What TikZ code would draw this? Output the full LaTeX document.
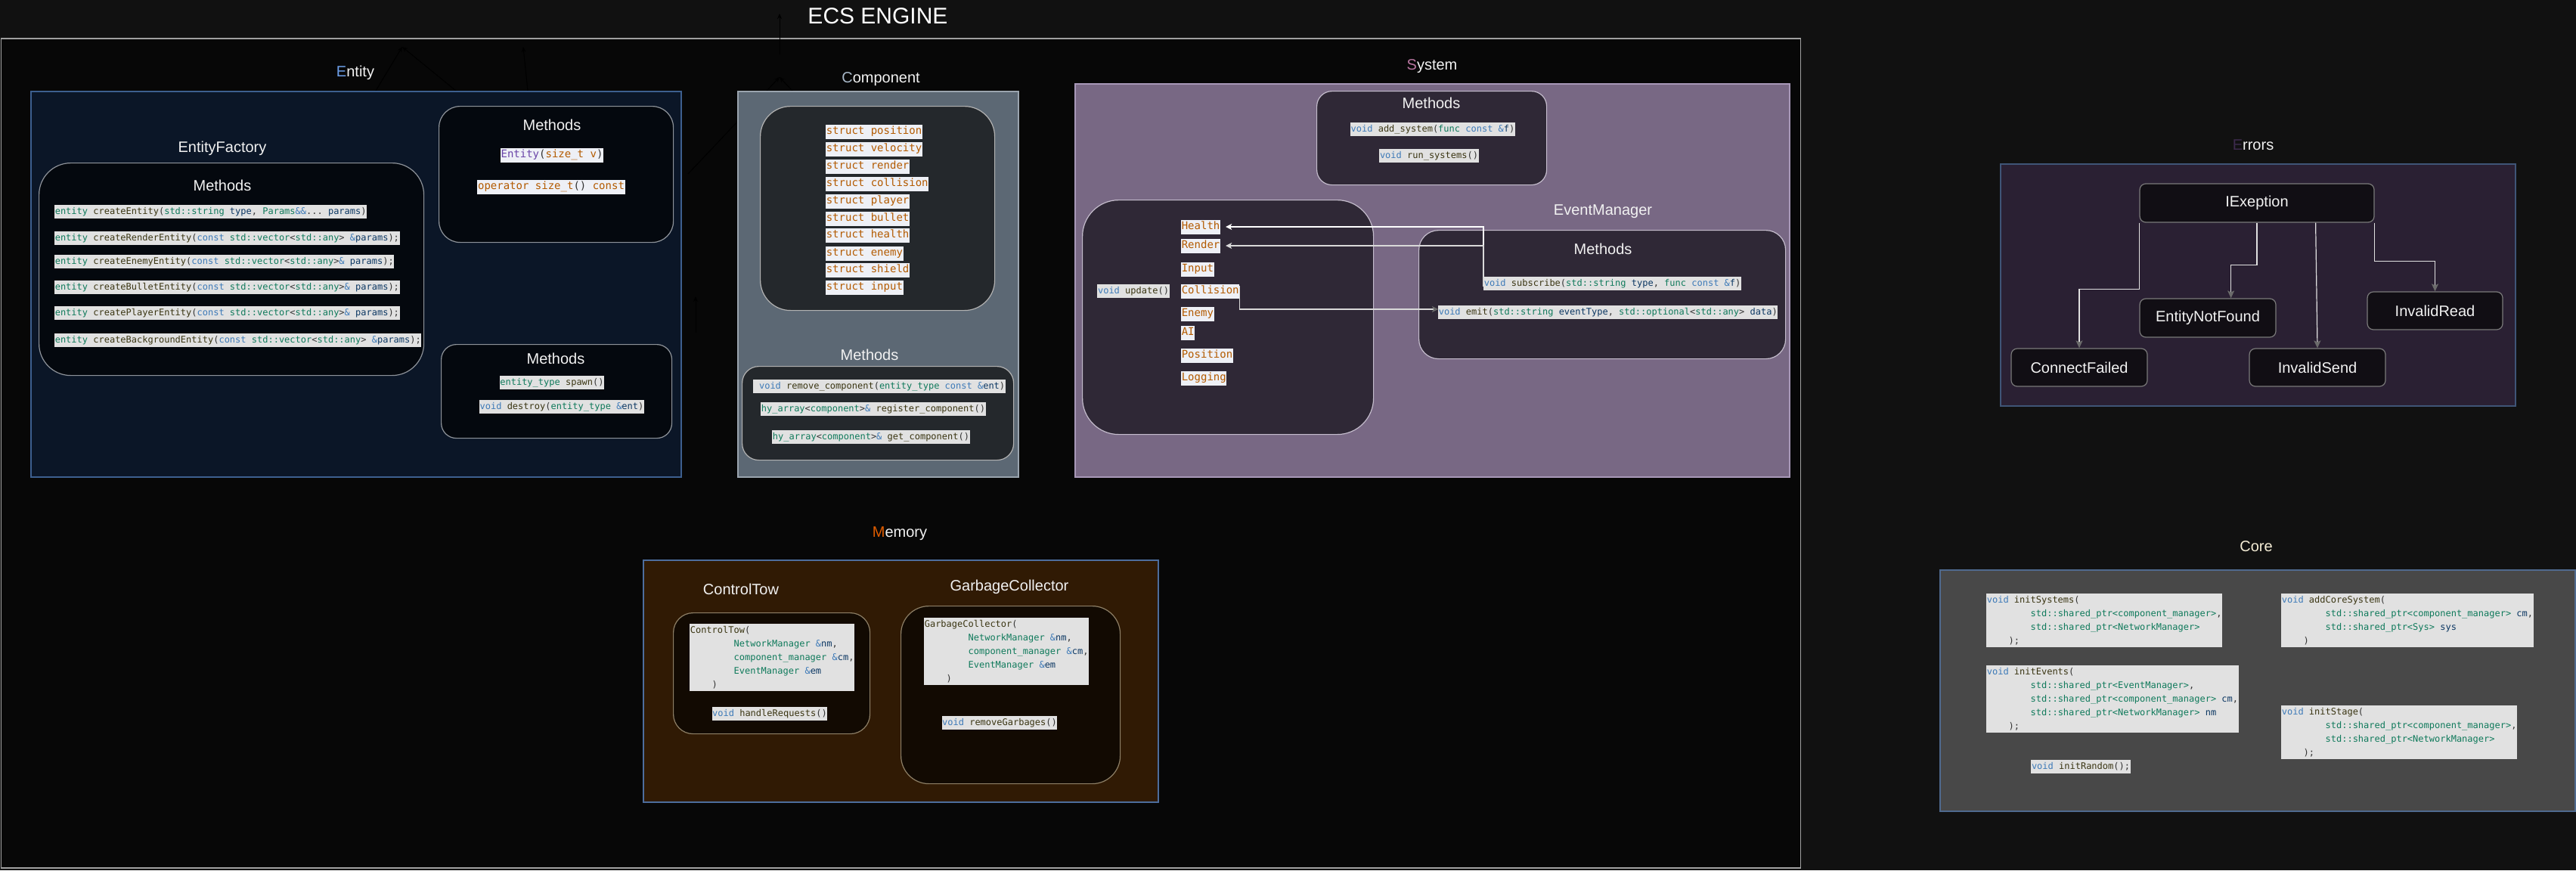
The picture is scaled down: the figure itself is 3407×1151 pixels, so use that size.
\documentclass[tikz,border=0pt]{standalone}
\usepackage{fontspec}
\setmainfont{Liberation Sans}
\setmonofont{DejaVu Sans Mono}
\usetikzlibrary{arrows.meta,calc}

% palette
\definecolor{pagebg}{HTML}{111111}
\definecolor{outerbg}{HTML}{070707}
\definecolor{outerln}{HTML}{A0A0A0}
\definecolor{labc}{HTML}{F2F2F2}
\definecolor{entbg}{HTML}{0B1627}
\definecolor{entln}{HTML}{3D5F8F}
\definecolor{entin}{HTML}{04080E}
\definecolor{inln}{HTML}{8E939A}
\definecolor{cmpbg}{HTML}{5C6874}
\definecolor{cmpln}{HTML}{9AA4AE}
\definecolor{cmpin}{HTML}{24282C}
\definecolor{sysbg}{HTML}{786884}
\definecolor{sysln}{HTML}{A898B8}
\definecolor{sysin}{HTML}{2F2836}
\definecolor{sysinln}{HTML}{C4BCCC}
\definecolor{errbg}{HTML}{2A2033}
\definecolor{errln}{HTML}{3F5577}
\definecolor{errnode}{HTML}{110E14}
\definecolor{errnodeln}{HTML}{7A7A7A}
\definecolor{arrgray}{HTML}{6B6B6B}
\definecolor{memln}{HTML}{4D6D9D}
\definecolor{membg}{HTML}{301A04}
\definecolor{memin}{HTML}{120A02}
\definecolor{meminln}{HTML}{8D7F66}
\definecolor{corebg}{HTML}{484848}
\definecolor{coreln}{HTML}{4F6A8F}
\definecolor{codebg}{HTML}{E1E1E1}
\definecolor{codebgb}{HTML}{EEF0F6}
% initial letters of the group titles
\definecolor{entc}{HTML}{6C9EE8}
\definecolor{cmpc}{HTML}{A8B8C8}
\definecolor{sysc}{HTML}{B5739D}
\definecolor{errc}{HTML}{3C2A4D}
\definecolor{memc}{HTML}{E05C00}
\definecolor{corec}{HTML}{F5EDD6}
% syntax colours
\definecolor{ckw}{HTML}{3D7AB8}
\definecolor{cty}{HTML}{0F7A5B}
\definecolor{cfn}{HTML}{3A3512}
\definecolor{cva}{HTML}{0C3763}
\definecolor{cst}{HTML}{B35A00}
\definecolor{cpu}{HTML}{333333}
\definecolor{cpr}{HTML}{6A45A8}

\newcommand\CKw[1]{\textcolor{ckw}{#1}}
\newcommand\CTy[1]{\textcolor{cty}{#1}}
\newcommand\CFn[1]{\textcolor{cfn}{#1}}
\newcommand\CVa[1]{\textcolor{cva}{#1}}
\newcommand\CSt[1]{\textcolor{cst}{#1}}
\newcommand\CPr[1]{\textcolor{cpr}{#1}}
\newcommand\ind{\phantom{00000000}}
\newcommand\indb{\phantom{0000}}
\newcommand\codefont{\ttfamily\fontsize{12}{18}\selectfont}
\newcommand\codefontL{\ttfamily\fontsize{14}{19}\selectfont}
\newcommand\labfont{\fontsize{20}{24}\selectfont}

\tikzset{
  lab/.style={text=labc, font=\labfont, inner sep=0pt},
  grp/.style={anchor=north west, inner sep=0pt, line width=1.5pt},
  rbox/.style={anchor=north west, inner sep=0pt, line width=1.2pt},
  code/.style={fill=codebg, text=cpu, font=\codefont, inner xsep=0.6pt,
    inner ysep=3pt, text height=9pt, text depth=3pt},
  codeL/.style={fill=codebgb, text=cpu, font=\codefontL, inner xsep=0.6pt,
    inner ysep=2.5pt, text height=10.5pt, text depth=3.5pt},
  block/.style={fill=codebg, text=cpu, font=\codefont, inner xsep=0.6pt,
    inner ysep=3pt, align=left, anchor=north west},
  errnd/.style={draw=errnodeln, fill=errnode, line width=1.2pt, rounded corners=8pt,
    text=labc, font=\labfont, inner sep=0pt},
  eline/.style={draw=white!88!black, line width=1.2pt,
    -{Stealth[length=10pt,width=9pt,inset=2pt,color=arrgray]}},
  wline/.style={draw=white, line width=1.3pt,
    -{Stealth[length=8pt,width=8pt,inset=2pt]}, shorten >=7pt},
  ghost/.style={draw=black, line width=1pt, -{Stealth[length=7pt,width=6pt]}},
}

\begin{document}
\begin{tikzpicture}[x=1pt,y=-1pt]
\useasboundingbox (0,0) rectangle (3407,1151);
\fill[pagebg] (0,0) rectangle (3407,1151);

% ---------- engine frame ----------
\node[grp, draw=outerln, fill=outerbg, minimum width=2380pt, minimum height=1097pt] (engine) at (0.8,50) {};
\node[text=white, font=\fontsize{30}{36}\selectfont, inner sep=0pt] (title) at (1161,21) {ECS ENGINE};

% loose connectors left in the frame
\coordinate (g1a) at (497,120); \coordinate (g1b) at (603,120); \coordinate (g1t) at (532,62);
\coordinate (g2a) at (698,120); \coordinate (g2t) at (692,62);
\coordinate (g3a) at (1031,72); \coordinate (g3t) at (1031,18);
\coordinate (g4a) at (910,230); \coordinate (g4b) at (1048,120); \coordinate (g4t) at (1031,102);
\coordinate (g5a) at (920,440); \coordinate (g5t) at (920,392);
\draw[ghost] (g1a) -- (g1t);
\draw[ghost] (g1b) -- (g1t);
\draw[ghost] (g2a) -- (g2t);
\draw[ghost] (g3a) -- (g3t);
\draw[ghost] (g4a) -- (g4t);
\draw[ghost] (g4b) -- (g4t);
\draw[ghost] (g5a) -- (g5t);

% ---------- Entity ----------
\node[lab] (entlab) at (470,96) {\textcolor{entc}{E}ntity};
\node[grp, draw=entln, fill=entbg, minimum width=860pt, minimum height=510pt] (ent) at (40,120) {};
\node[lab] (eflab) at (294,196) {EntityFactory};
\node[rbox, draw=inln, fill=entin, rounded corners=42pt, minimum width=509pt, minimum height=281pt] (efbox) at (51,215) {};
\node[lab] (efm) at (294,245) {Methods};
\node[code, anchor=west] (ef1) at (72,280) {\CTy{entity} \CFn{createEntity}(\CTy{std::string} \CVa{type}, \CTy{Params}\CKw{\&\&}... \CVa{params})};
\node[code, anchor=west] (ef2) at (72,315) {\CTy{entity} \CFn{createRenderEntity}(\CKw{const} \CTy{std::vector}<\CTy{std::any}> \CKw{\&}\CVa{params});};
\node[code, anchor=west] (ef3) at (72,346) {\CTy{entity} \CFn{createEnemyEntity}(\CKw{const} \CTy{std::vector}<\CTy{std::any}>\CKw{\&} \CVa{params});};
\node[code, anchor=west] (ef4) at (72,380) {\CTy{entity} \CFn{createBulletEntity}(\CKw{const} \CTy{std::vector}<\CTy{std::any}>\CKw{\&} \CVa{params});};
\node[code, anchor=west] (ef5) at (72,414) {\CTy{entity} \CFn{createPlayerEntity}(\CKw{const} \CTy{std::vector}<\CTy{std::any}>\CKw{\&} \CVa{params});};
\node[code, anchor=west] (ef6) at (72,450) {\CTy{entity} \CFn{createBackgroundEntity}(\CKw{const} \CTy{std::vector}<\CTy{std::any}> \CKw{\&}\CVa{params});};

\node[rbox, draw=inln, fill=entin, rounded corners=28pt, minimum width=310pt, minimum height=180pt] (emup) at (580,140) {};
\node[lab] (emupm) at (730,165) {Methods};
\node[codeL, fill=codebgb] (ector) at (730,205) {\CPr{Entity}(\CSt{size\_t v})};
\node[codeL, fill=codebgb] (eop) at (729,247) {\CSt{operator size\_t}() \CSt{const}};

\node[rbox, draw=inln, fill=entin, rounded corners=20pt, minimum width=305pt, minimum height=124pt] (emlo) at (583,455) {};
\node[lab] (emlom) at (735,474) {Methods};
\node[code] (espawn) at (730,506) {\CTy{entity\_type} \CFn{spawn}()};
\node[code] (edestroy) at (743,538) {\CKw{void} \CFn{destroy}(\CTy{entity\_type} \CKw{\&}\CVa{ent})};

% ---------- Component ----------
\node[lab] (cmplab) at (1165,105) {\textcolor{cmpc}{C}omponent};
\node[grp, draw=cmpln, fill=cmpbg, minimum width=371pt, minimum height=510pt] (cmp) at (975,120) {};
\node[rbox, draw=white!70!black, fill=cmpin, rounded corners=40pt, minimum width=310pt, minimum height=270pt] (cstructs) at (1005,140) {};
\foreach \n/\y in {position/174, velocity/197, render/220, collision/243, player/266,
                   bullet/289, health/311, enemy/335, shield/357, input/380}
  \node[codeL, anchor=west] (s-\n) at (1092,\y) {\CSt{struct \n}};
\node[lab] (cmpm) at (1150,469) {Methods};
\node[rbox, draw=white!70!black, fill=cmpin, rounded corners=22pt, minimum width=359pt, minimum height=124pt] (cmeth) at (981,484) {};
\node[code] (crem) at (1163,511) {\phantom{0}\CKw{void} \CFn{remove\_component}(\CTy{entity\_type} \CKw{const} \CKw{\&}\CVa{ent})};
\node[code] (creg) at (1155,541) {\CTy{hy\_array}<\CTy{component}>\CKw{\&} \CFn{register\_component}()};
\node[code] (cget) at (1152,578) {\CTy{hy\_array}<\CTy{component}>\CKw{\&} \CFn{get\_component}()};

% ---------- System ----------
\node[lab] (syslab) at (1894,88) {\textcolor{sysc}{S}ystem};
\node[grp, draw=sysln, fill=sysbg, minimum width=945pt, minimum height=520pt] (sys) at (1421,110) {};
\node[rbox, draw=sysinln, fill=sysin, rounded corners=20pt, minimum width=304pt, minimum height=124pt] (smeth) at (1741,120) {};
\node[lab] (smethm) at (1893,136) {Methods};
\node[code] (sadd) at (1895,171) {\CKw{void} \CFn{add\_system}(\CTy{func} \CKw{const} \CKw{\&}\CVa{f})};
\node[code] (srun) at (1890,206) {\CKw{void} \CFn{run\_systems}()};

\node[rbox, draw=sysinln, fill=sysin, rounded corners=48pt, minimum width=385pt, minimum height=310pt] (supd) at (1431,264) {};
\node[code] (supdate) at (1499,385) {\CKw{void} \CFn{update}()};
\foreach \n/\y in {Health/300, Render/325, Input/356, Collision/385, Enemy/415,
                   AI/440, Position/470, Logging/500}
  \node[codeL, anchor=west] (u-\n) at (1562,\y) {\CSt{\n}};

\node[lab] (emlab) at (2120,280) {EventManager};
\node[rbox, draw=sysinln, fill=sysin, rounded corners=26pt, minimum width=485pt, minimum height=170pt] (embox) at (1876,304) {};
\node[lab] (emm) at (2120,329) {Methods};
\node[code, anchor=west] (esub) at (1962,375) {\CKw{void} \CFn{subscribe}(\CTy{std::string} \CVa{type}, \CTy{func} \CKw{const} \CKw{\&}\CVa{f})};
\node[code, anchor=west] (eemit) at (1902,413) {\CKw{void} \CFn{emit}(\CTy{std::string} \CVa{eventType}, \CTy{std::optional}<\CTy{std::any}> \CVa{data})};

\coordinate (subbus) at (1790,340);
\coordinate (emitbus) at (1771,395);
\draw[wline] ($(esub.west)+(0,-6)$) -- ($(esub.west)+(0,-6)$ -| subbus) |- (u-Health.east);
\draw[wline, draw=white!85!black] ($(esub.west)+(0,4)$) -- ($(esub.west)+(0,4)$ -| subbus) |- (u-Render.east);
\draw[draw=white!85!black, line width=1.3pt, -{Stealth[length=8pt,width=8pt,inset=2pt,color=arrgray]}]
  ($(u-Collision.east)+(0,-7)$) -- ($(u-Collision.east)+(0,-7)$ -| emitbus) |- ($(eemit.west)+(0,-4)$);

% ---------- Errors ----------
\node[lab] (errlab) at (2980,192) {\textcolor{errc}{E}rrors};
\node[grp, draw=errln, fill=errbg, minimum width=681pt, minimum height=320pt] (err) at (2645,216) {};
\node[errnd, minimum width=310pt, minimum height=51pt] (iex) at (2985,268.5) {IExeption};
\node[errnd, minimum width=180pt, minimum height=51pt] (enf) at (2920,420.5) {EntityNotFound};
\node[errnd, minimum width=180pt, minimum height=50pt] (cfail) at (2750,486) {ConnectFailed};
\node[errnd, minimum width=180pt, minimum height=50pt] (isend) at (3065,486) {InvalidSend};
\node[errnd, minimum width=179pt, minimum height=50pt] (iread) at (3220.5,411) {InvalidRead};
\draw[eline] (iex.south west) -- ++(0,88) -| (cfail.north);
\draw[eline] (iex.south) -- ++(0,56) -| ($(enf.north)+(30.6,0)$);
\draw[eline] ($(iex.south)+(77.6,0)$) -- (isend.north);
\draw[eline] (iex.south east) -- ++(0,51) -| (iread.north);

% ---------- Memory ----------
\node[lab] (memlab) at (1190,706) {\textcolor{memc}{M}emory};
\node[grp, draw=memln, fill=membg, minimum width=681pt, minimum height=320pt] (mem) at (850,740) {};
\node[lab] (ctlab) at (980,779) {ControlTow};
\node[rbox, draw=meminln, fill=memin, rounded corners=26pt, minimum width=260pt, minimum height=160pt] (ctbox) at (890,810) {};
\node[block] (ctctor) at (912,825) {\CFn{ControlTow}(\\
\ind\CTy{NetworkManager} \CKw{\&}\CVa{nm},\\
\ind\CTy{component\_manager} \CKw{\&}\CVa{cm},\\
\ind\CTy{EventManager} \CKw{\&}\CVa{em}\\
\indb)};
\node[code] (cthandle) at (1018,944) {\CKw{void} \CFn{handleRequests}()};
\node[lab] (gclab) at (1335,776) {GarbageCollector};
\node[rbox, draw=meminln, fill=memin, rounded corners=37pt, minimum width=290pt, minimum height=235pt] (gcbox) at (1191,801) {};
\node[block] (gcctor) at (1222,817) {\CFn{GarbageCollector}(\\
\ind\CTy{NetworkManager} \CKw{\&}\CVa{nm},\\
\ind\CTy{component\_manager} \CKw{\&}\CVa{cm},\\
\ind\CTy{EventManager} \CKw{\&}\CVa{em}\\
\indb)};
\node[code] (gcremove) at (1322,956) {\CKw{void} \CFn{removeGarbages}()};

% ---------- Core ----------
\node[lab, text=corec] (corelab) at (2984,723) {Core};
\node[grp, draw=coreln, fill=corebg, minimum width=840pt, minimum height=319pt] (core) at (2565,753) {};
\node[block] (cinitsys) at (2627,785) {\CKw{void} \CFn{initSystems}(\\
\ind\CTy{std::shared\_ptr<component\_manager>},\\
\ind\CTy{std::shared\_ptr<NetworkManager>}\\
\indb);};
\node[block] (caddcore) at (3017,785) {\CKw{void} \CFn{addCoreSystem}(\\
\ind\CTy{std::shared\_ptr<component\_manager>} \CVa{cm},\\
\ind\CTy{std::shared\_ptr<Sys>} \CVa{sys}\\
\indb)};
\node[block] (cinitev) at (2627,880) {\CKw{void} \CFn{initEvents}(\\
\ind\CTy{std::shared\_ptr<EventManager>},\\
\ind\CTy{std::shared\_ptr<component\_manager>} \CVa{cm},\\
\ind\CTy{std::shared\_ptr<NetworkManager>} \CVa{nm}\\
\indb);};
\node[block] (cinitst) at (3017,933) {\CKw{void} \CFn{initStage}(\\
\ind\CTy{std::shared\_ptr<component\_manager>},\\
\ind\CTy{std::shared\_ptr<NetworkManager>}\\
\indb);};
\node[code] (cinitrnd) at (2752,1014) {\CKw{void} \CFn{initRandom}();};
\end{tikzpicture}
\end{document}
